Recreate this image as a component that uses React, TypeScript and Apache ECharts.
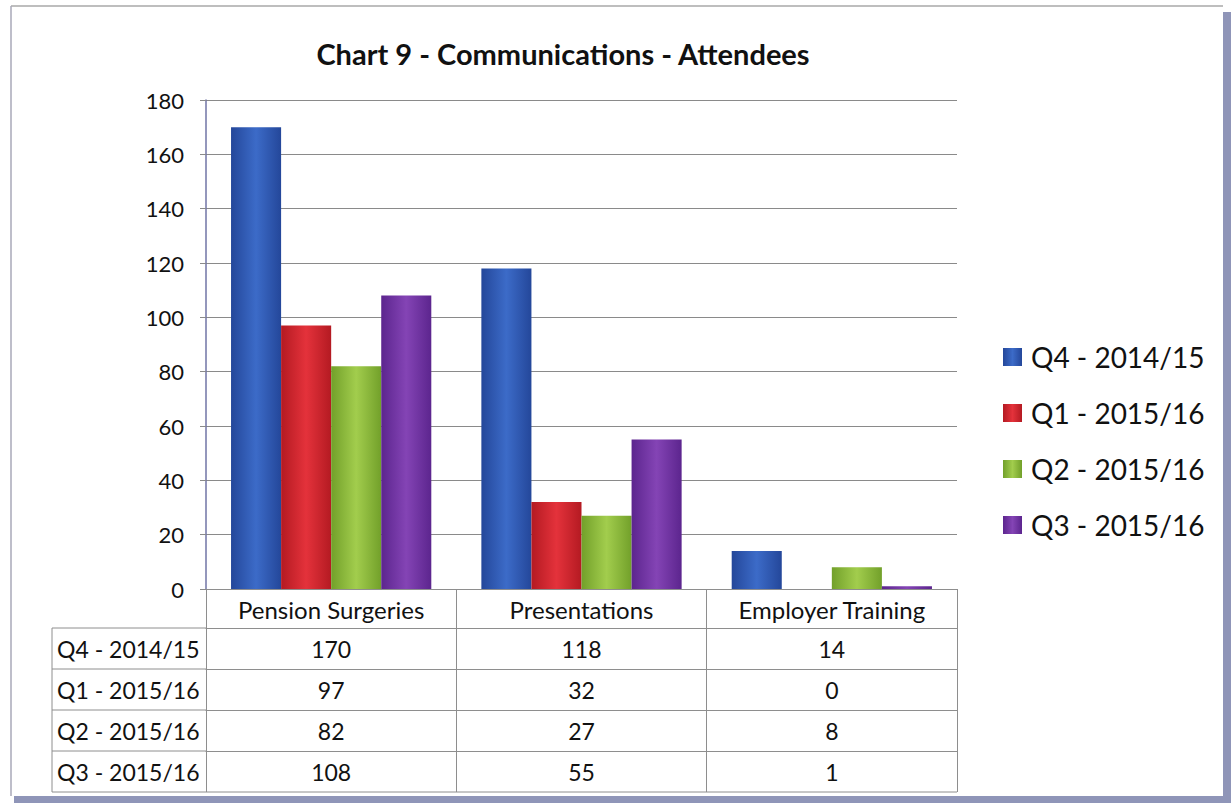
import React, { useEffect, useRef } from "react";
import * as echarts from "echarts";

const categories = ["Pension Surgeries", "Presentations", "Employer Training"];
const seriesNames = ["Q4 - 2014/15", "Q1 - 2015/16", "Q2 - 2015/16", "Q3 - 2015/16"];
const q4_2014_15 = [170, 118, 14];
const q1_2015_16 = [97, 32, 0];
const q2_2015_16 = [82, 27, 8];
const q3_2015_16 = [108, 55, 1];
const seriesValues = [q4_2014_15, q1_2015_16, q2_2015_16, q3_2015_16];
const yMin = 0;
const yMax = 180;
const yInterval = 20;
const titleText = "Chart 9 - Communications - Attendees";

const palette = [
  ["#24479A", "#3C6BC8"],
  ["#B41A22", "#E4323B"],
  ["#72A02A", "#A2CD4D"],
  ["#5C258E", "#8444B5"],
];

const FONT = "Lato";
const W = 1231;
const H = 803;
const GL = 206;
const GR = 957;
const GT = 100;
const GB = 589;
const HEADER_H = 39;
const ROW_H = 41;
const TABLE_LEFT = 52;
const LINE = "#8E8E8E";

export default function App() {
  const ref = useRef<HTMLDivElement>(null);
  useEffect(() => {
    if (!ref.current) return;
    const chart = echarts.init(ref.current, undefined, { renderer: "svg" });

    const grad = (i: number) =>
      new echarts.graphic.LinearGradient(0, 0, 1, 0, [
        { offset: 0, color: palette[i][0] },
        { offset: 0.5, color: palette[i][1] },
        { offset: 1, color: palette[i][0] },
      ]);

    const rowAxes = seriesValues.map((vals, i) => ({
      type: "category",
      gridIndex: 0,
      position: "bottom",
      offset: HEADER_H + i * ROW_H,
      data: categories,
      axisLine: { show: true, lineStyle: { color: LINE, width: 1 } },
      axisTick: { show: true, length: ROW_H, interval: 0, lineStyle: { color: LINE } },
      axisLabel: {
        show: true,
        interval: 0,
        margin: 9,
        fontFamily: FONT,
        fontSize: 23,
        color: "#111",
        formatter: (_v: string, idx: number) => String(vals[idx]),
      },
      splitLine: { show: false },
    }));

    const tableBottom = GB + HEADER_H + ROW_H * seriesValues.length;

    const graphics: any[] = [
      { type: "rect", shape: { x: W - 8, y: 12, width: 8, height: H - 12 }, style: { fill: "#8F95B8" }, silent: true },
      { type: "rect", shape: { x: 14, y: H - 7, width: W - 14, height: 7 }, style: { fill: "#8F95B8" }, silent: true },
      { type: "line", shape: { x1: 11, y1: 6, x2: W - 8, y2: 6 }, style: { stroke: "#A8A8A8", lineWidth: 1.5 }, silent: true },
      { type: "line", shape: { x1: 11, y1: 6, x2: 11, y2: H - 7 }, style: { stroke: "#A8A8B8", lineWidth: 1.5 }, silent: true },
      {
        type: "text",
        x: 563,
        y: 53,
        style: {
          text: titleText,
          fontFamily: FONT,
          fontWeight: "bold",
          fontSize: 29,
          fill: "#111",
          textAlign: "center",
          textVerticalAlign: "middle",
        },
      },
      { type: "line", shape: { x1: TABLE_LEFT, y1: GB + HEADER_H, x2: TABLE_LEFT, y2: tableBottom }, style: { stroke: LINE, lineWidth: 1 } },
      { type: "line", shape: { x1: TABLE_LEFT, y1: tableBottom, x2: GR, y2: tableBottom }, style: { stroke: LINE, lineWidth: 1 } },
    ];
    seriesNames.forEach((name, i) => {
      const y = GB + HEADER_H + i * ROW_H;
      graphics.push({ type: "line", shape: { x1: TABLE_LEFT, y1: y, x2: GL, y2: y }, style: { stroke: LINE, lineWidth: 1 } });
      graphics.push({
        type: "text",
        x: TABLE_LEFT + 5,
        y: y + ROW_H / 2,
        style: { text: name, fontFamily: FONT, fontSize: 23, fill: "#111", textAlign: "left", textVerticalAlign: "middle" },
      });
    });

    chart.setOption({
      animation: false,
      backgroundColor: "#ffffff",
      grid: { left: GL, right: W - GR, top: GT, bottom: H - GB, containLabel: false },
      legend: {
        orient: "vertical",
        left: 998,
        top: 335,
        itemWidth: 19,
        itemHeight: 18,
        itemGap: 22,
        icon: "rect",
        data: seriesNames,
        textStyle: { fontFamily: FONT, fontSize: 28, color: "#111", padding: [0, 0, 0, 4], lineHeight: 34 },
      },
      xAxis: [
        {
          type: "category",
          data: categories,
          position: "bottom",
          axisLine: { show: true, lineStyle: { color: LINE, width: 1 } },
          axisTick: { show: true, length: HEADER_H, interval: 0, lineStyle: { color: LINE } },
          axisLabel: { interval: 0, margin: 8, fontFamily: FONT, fontSize: 24, color: "#111" },
          splitLine: { show: false },
        },
        ...rowAxes,
      ],
      yAxis: {
        type: "value",
        min: yMin,
        max: yMax,
        interval: yInterval,
        axisLine: { show: true, lineStyle: { color: "#7075A6", width: 1.5 } },
        axisTick: { show: true, length: 6, lineStyle: { color: "#8A8A8A" } },
        axisLabel: { margin: 22, fontFamily: FONT, fontSize: 22, color: "#111" },
        splitLine: { show: true, lineStyle: { color: "#8A8A8A", width: 1.2 } },
      },
      series: seriesNames.map((name, i) => ({
        name,
        type: "bar",
        data: seriesValues[i],
        barGap: "0%",
        barCategoryGap: "20%",
        itemStyle: { color: grad(i), borderWidth: 0 },
      })),
      graphic: graphics,
    });
    return () => chart.dispose();
  }, []);
  return <div ref={ref} style={{ position: "fixed", left: 0, top: 0, width: W, height: H, background: "#fff" }} />;
}
